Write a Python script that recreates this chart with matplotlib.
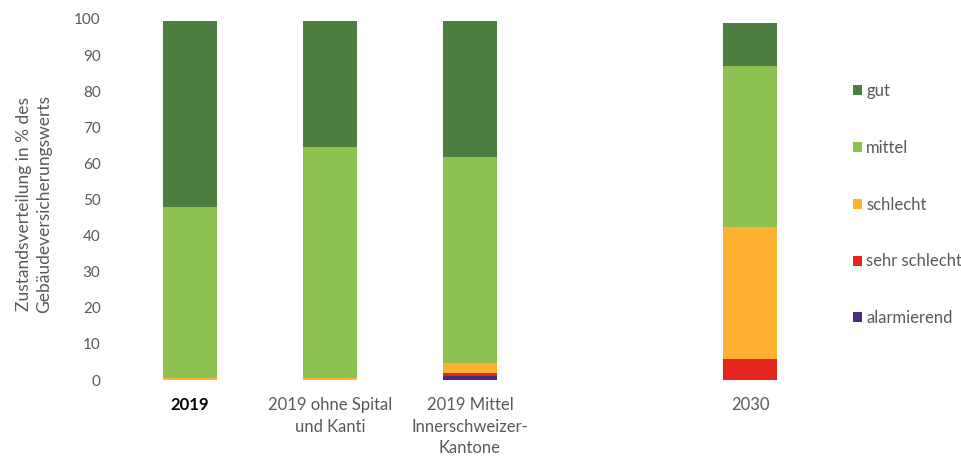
import matplotlib
matplotlib.use("Agg")
import matplotlib.pyplot as plt
from matplotlib.patches import Patch
import numpy as np

categories = ["2019", "2019 ohne Spital\nund Kanti", "2019 Mittel\nInnerschweizer-\nKantone", "2030"]
positions = [0, 1, 2, 4]
series_names = ["alarmierend", "sehr schlecht", "schlecht", "mittel", "gut"]
alarmierend = [0.0, 0.0, 1.0, 0.0]
sehr_schlecht = [0.0, 0.0, 1.0, 5.8]
schlecht = [0.6, 0.6, 2.6, 36.7]
mittel = [47.3, 64.0, 57.2, 44.5]
gut = [51.6, 34.9, 37.7, 12.0]
colors = ["#4b2b7f", "#e5261f", "#fdb12f", "#8cc150", "#4a7d3f"]

plt.rcParams['font.family'] = ['Lato', 'DejaVu Sans']
grey = "#595959"

fig = plt.figure(figsize=(9.61, 4.59), dpi=100)
ax = fig.add_axes([120/961, (459-380)/459, 700/961, 361/459])

data = [alarmierend, sehr_schlecht, schlecht, mittel, gut]
bottom = np.zeros(len(positions))
for name, vals, col in zip(series_names, data, colors):
    ax.bar(positions, vals, width=0.39, bottom=bottom, color=col, label=name)
    bottom += np.array(vals)

ax.set_xlim(-0.5, 4.5)
ax.set_ylim(0, 100)
ax.set_yticks(range(0, 101, 10))
ax.set_xticks(positions)
ax.set_xticklabels(categories, fontsize=12, color=grey, linespacing=1.45)
ax.get_xticklabels()[0].set_color("black")
ax.get_xticklabels()[0].set_fontweight("bold")
ax.tick_params(axis='y', labelsize=11, labelcolor=grey, length=0, pad=14)
ax.tick_params(axis='x', length=0, pad=12)
for s in ax.spines.values():
    s.set_visible(False)

ax.set_ylabel("Zustandsverteilung in % des\nGebäudeversicherungswerts", fontsize=12.5,
              color=grey, linespacing=1.35)
ax.yaxis.set_label_coords(-0.097, 0.487)

handles = [Patch(facecolor=c, label=n) for n, c in zip(series_names, colors)][::-1]
fig.legend(handles=handles, loc="upper left", bbox_to_anchor=(838/961, 1 - 68/459),
           frameon=False, fontsize=12, labelcolor=grey, handlelength=0.55, handleheight=0.55,
           handletextpad=0.25, labelspacing=2.45)

fig.savefig("out.png", dpi=100)
